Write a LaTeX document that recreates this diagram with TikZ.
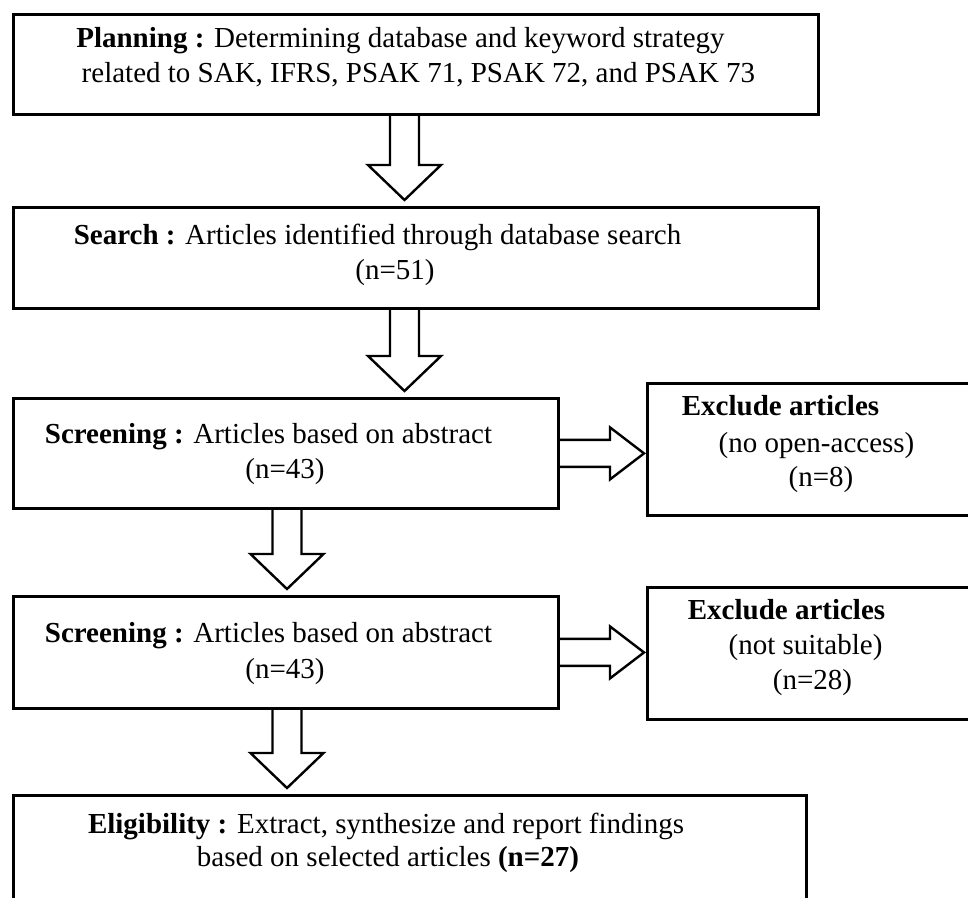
\documentclass[tikz,border=0pt]{standalone}
\usepackage{fontspec}
\setmainfont{Liberation Serif}
\usetikzlibrary{calc}
\newcommand\vblk[3]{\draw[blk] let \p1=(#1.south), \p2=(#2.north), \p3=(#3,0) in
  (\x3-14.5pt,\y1) -- (\x3-14.5pt,\y2+41pt) -- (\x3-36.5pt,\y2+41pt) -- (\x3,\y2+6pt)
  -- (\x3+36.5pt,\y2+41pt) -- (\x3+14.5pt,\y2+41pt) -- (\x3+14.5pt,\y1);}
\newcommand\hblk[2]{\draw[blk] let \p1=(#1.east), \p2=(#2.west) in
  (\x1,\y1+13.5pt) -- (\x2-36pt,\y1+13.5pt) -- (\x2-36pt,\y1+26pt) -- (\x2-2pt,\y1)
  -- (\x2-36pt,\y1-26pt) -- (\x2-36pt,\y1-13.5pt) -- (\x1,\y1-13.5pt);}
\begin{document}
\begin{tikzpicture}[x=1pt,y=-1pt,
  box/.style={draw, line width=2.8pt, rectangle, inner sep=0pt, anchor=north west},
  blk/.style={draw, line width=2.4pt, line join=miter},
  txt/.style={anchor=mid, inner sep=0pt, font=\fontsize{29}{35}\selectfont}]
\clip (0,0) rectangle (968,897);
\fill[white] (0,0) rectangle (968,897);
% boxes
\node[box, minimum width=805pt, minimum height=100pt] (b1) at (12,13) {};
\node[box, minimum width=805pt, minimum height=101pt] (b2) at (12,206) {};
\node[box, minimum width=545pt, minimum height=110pt] (b3) at (12,397) {};
\node[box, minimum width=360pt, minimum height=132pt] (b4) at (646,382) {};
\node[box, minimum width=545pt, minimum height=112pt] (b5) at (12,595) {};
\node[box, minimum width=360pt, minimum height=132pt] (b6) at (646,586) {};
\node[box, minimum width=793pt, minimum height=150pt] (b7) at (12,794) {};
% texts
\node[txt] (t1a) at (400.5,45) {\textbf{Planning :} Determining database and keyword strategy};
\node[txt] (t1b) at (418.5,80) {related to SAK, IFRS, PSAK 71, PSAK 72, and PSAK 73};
\node[txt] (t2a) at (377.5,242) {\textbf{Search :} Articles identified through database search};
\node[txt] (t2b) at (395,277) {(n=51)};
\node[txt] (t3a) at (268.5,441) {\textbf{Screening :} Articles based on abstract};
\node[txt] (t3b) at (285,476) {(n=43)};
\node[txt] (t4a) at (780.5,413) {\textbf{Exclude articles}};
\node[txt] (t4b) at (816.5,450) {(no open-access)};
\node[txt] (t4c) at (821,484) {(n=8)};
\node[txt] (t5a) at (268.5,640) {\textbf{Screening :} Articles based on abstract};
\node[txt] (t5b) at (285,676) {(n=43)};
\node[txt] (t6a) at (786.5,617) {\textbf{Exclude articles}};
\node[txt] (t6b) at (805.5,652) {(not suitable)};
\node[txt] (t6c) at (812.5,687) {(n=28)};
\node[txt] (t7a) at (386,831) {\textbf{Eligibility :} Extract, synthesize and report findings};
\node[txt] (t7b) at (388,864) {based on selected articles \textbf{(n=27)}};
% arrows
\vblk{b1}{b2}{404.5}
\vblk{b2}{b3}{404.5}
\vblk{b3}{b5}{287}
\vblk{b5}{b7}{287}
\hblk{b3}{b4}
\hblk{b5}{b6}
\end{tikzpicture}
\end{document}
